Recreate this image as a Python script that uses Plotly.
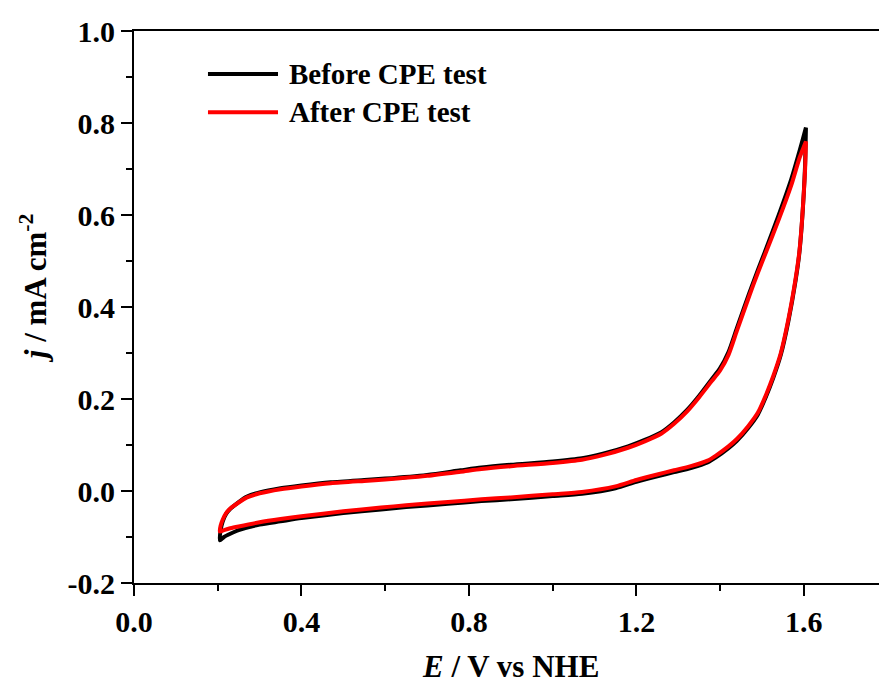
import plotly.graph_objects as go

# Cyclic voltammograms: forward (anodic) sweep then reverse (cathodic) sweep
E_fwd = [0.205, 0.207, 0.212, 0.22, 0.23, 0.25, 0.27, 0.30, 0.35, 0.40, 0.47, 0.55,
         0.60, 0.70, 0.78, 0.83, 0.90, 1.00, 1.07, 1.12, 1.18, 1.22, 1.26, 1.29,
         1.32, 1.35, 1.38, 1.40, 1.42, 1.44, 1.47, 1.49, 1.51, 1.54, 1.57, 1.59, 1.605]
E_rev = [1.605, 1.603, 1.60, 1.595, 1.589, 1.58, 1.563, 1.545, 1.527, 1.51, 1.49,
         1.467, 1.44, 1.42, 1.39, 1.37, 1.33, 1.29, 1.25, 1.20, 1.15, 1.07, 1.00,
         0.90, 0.83, 0.75, 0.65, 0.59, 0.50, 0.40, 0.35, 0.30, 0.25, 0.23, 0.215, 0.205]

j_before_fwd = [-0.107, -0.085, -0.066, -0.050, -0.039, -0.024, -0.012, -0.003, 0.006,
                0.012, 0.019, 0.024, 0.027, 0.035, 0.045, 0.051, 0.057, 0.064, 0.071,
                0.081, 0.097, 0.111, 0.128, 0.149, 0.175, 0.207, 0.243, 0.267, 0.302,
                0.354, 0.431, 0.480, 0.527, 0.600, 0.678, 0.740, 0.790]
j_before_rev = [0.790, 0.710, 0.650, 0.578, 0.515, 0.456, 0.369, 0.296, 0.246, 0.206,
                0.166, 0.137, 0.109, 0.093, 0.073, 0.062, 0.050, 0.041, 0.032, 0.020,
                0.006, -0.006, -0.011, -0.018, -0.022, -0.028, -0.035, -0.040, -0.048,
                -0.059, -0.066, -0.073, -0.085, -0.093, -0.100, -0.107]

j_after_fwd = [-0.088, -0.075, -0.062, -0.048, -0.038, -0.025, -0.014, -0.005, 0.004,
               0.010, 0.017, 0.022, 0.025, 0.033, 0.042, 0.048, 0.054, 0.061, 0.068,
               0.078, 0.094, 0.108, 0.125, 0.146, 0.172, 0.204, 0.239, 0.262, 0.296,
               0.348, 0.425, 0.474, 0.520, 0.590, 0.665, 0.725, 0.760]
j_after_rev = [0.760, 0.700, 0.650, 0.580, 0.518, 0.460, 0.373, 0.300, 0.250, 0.210,
               0.170, 0.141, 0.113, 0.097, 0.077, 0.066, 0.054, 0.045, 0.036, 0.024,
               0.010, -0.002, -0.007, -0.014, -0.018, -0.024, -0.031, -0.036, -0.044,
               -0.055, -0.061, -0.068, -0.077, -0.081, -0.085, -0.088]

series_names = ["Before CPE test", "After CPE test"]
series_colors = ["#000000", "#ff0000"]

x_ticks = [0.0, 0.4, 0.8, 1.2, 1.6]
y_ticks = [-0.2, 0.0, 0.2, 0.4, 0.6, 0.8, 1.0]

FONT = "Liberation Serif"

fig = go.Figure()
for name, color, jf, jr in [
    (series_names[0], series_colors[0], j_before_fwd, j_before_rev),
    (series_names[1], series_colors[1], j_after_fwd, j_after_rev),
]:
    fig.add_trace(go.Scatter(
        x=E_fwd + E_rev, y=jf + jr, mode="lines", name=name,
        line=dict(color=color, width=4, shape="spline", smoothing=0.7),
        showlegend=False,
    ))

axis_common = dict(
    showgrid=False, zeroline=False, showline=True, linecolor="black", linewidth=2,
    ticks="outside", ticklen=11, tickwidth=2, tickcolor="black",
    tickfont=dict(family=FONT, size=30, color="black", weight="bold"),
)

fig.update_xaxes(
    range=[0, 1.7795], tickvals=x_ticks, ticktext=[f"{v:.1f}" for v in x_ticks],
    mirror=True,
    minor=dict(dtick=0.2, tick0=0, ticks="outside", ticklen=6, tickwidth=2, tickcolor="black"),
    **axis_common,
)
fig.update_yaxes(
    range=[-0.2, 1.0], tickvals=y_ticks, ticktext=[f"{v:.1f}" for v in y_ticks],
    minor=dict(dtick=0.1, tick0=0, ticks="outside", ticklen=6, tickwidth=2, tickcolor="black"),
    **axis_common,
)

# Legend drawn as line samples with labels
legend_y = [0.922, 0.853]
for name, color, ly in zip(series_names, series_colors, legend_y):
    fig.add_shape(type="line", xref="paper", yref="paper", x0=0.0993, x1=0.1933,
                  y0=ly, y1=ly, line=dict(color=color, width=4))
    fig.add_annotation(xref="paper", yref="paper", x=0.2054, y=ly, text=name,
                       showarrow=False, xanchor="left", yanchor="middle",
                       font=dict(family=FONT, size=29, color="black", weight="bold"))

# Axis titles
fig.add_annotation(xref="paper", yref="paper", x=0.506, y=-0.152,
                   text="<i>E</i> / V vs NHE", showarrow=False,
                   xanchor="center", yanchor="middle",
                   font=dict(family=FONT, size=31, color="black", weight="bold"))
fig.add_annotation(xref="paper", yref="paper", x=-0.1356, y=0.534,
                   text="<i>j</i> / mA cm<sup>-2</sup>", showarrow=False, textangle=-90,
                   xanchor="center", yanchor="middle",
                   font=dict(family=FONT, size=31, color="black", weight="bold"))

fig.update_layout(
    width=879, height=682,
    margin=dict(l=134, r=0, t=31, b=99),
    paper_bgcolor="white", plot_bgcolor="white",
    showlegend=False,
)

fig.write_html("out.html")
